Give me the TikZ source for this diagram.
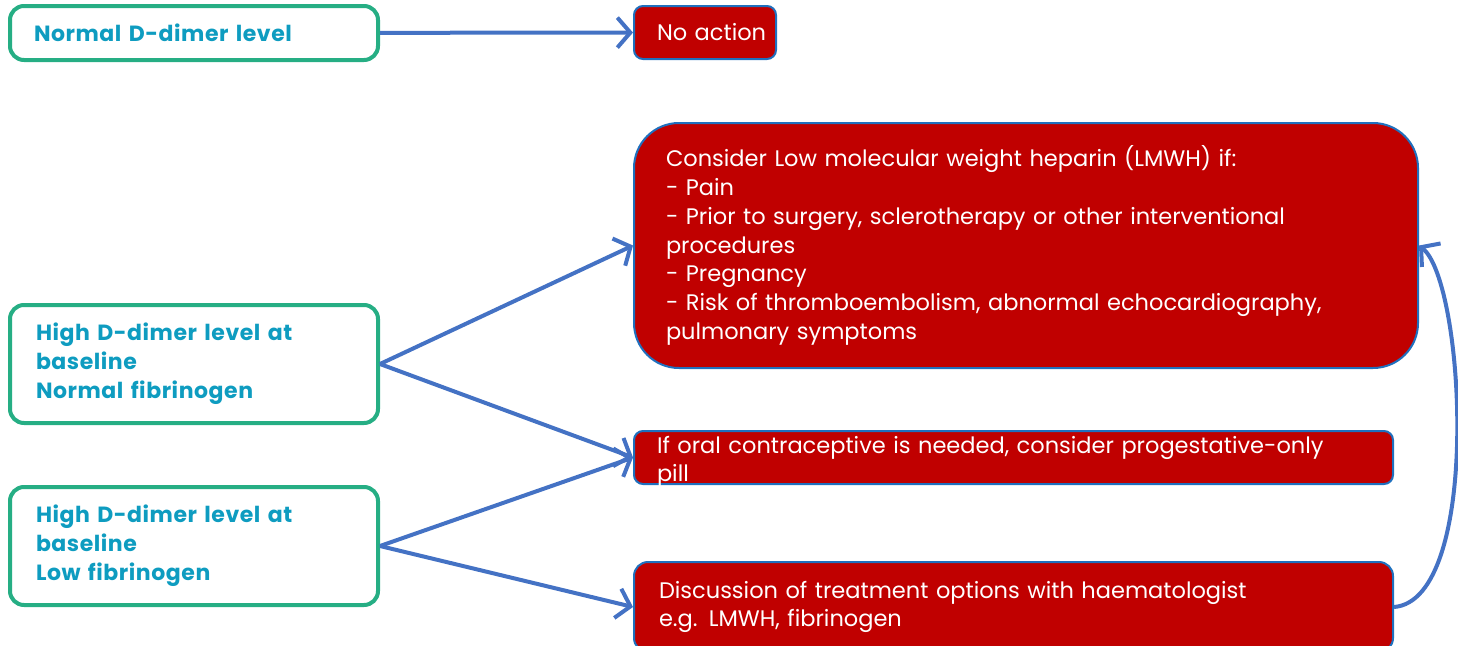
\documentclass[tikz,border=0pt]{standalone}
\usepackage{fontspec}
\setmainfont{Poppins}[WordSpace=1.6]
\newfontfamily\condfont{Poppins}[LetterSpace=2.5, WordSpace=1.4]
\usepackage{xcolor}
\usepackage{tikz}
\usetikzlibrary{arrows.meta}

\definecolor{boxred}{RGB}{192,0,0}
\definecolor{edgeblue}{RGB}{31,112,190}
\definecolor{arrowblue}{RGB}{68,114,196}
\definecolor{leafgreen}{RGB}{38,174,132}
\definecolor{tealtext}{RGB}{14,156,192}

\begin{document}
\begin{tikzpicture}[x=1pt, y=-1pt,
    cond/.style={draw=leafgreen, line width=4pt, fill=white, rounded corners=14pt,
        minimum width=368pt, inner sep=0pt, align=left, text width=316pt,
        text=tealtext, font=\condfont\fontsize{22}{29}\selectfont\bfseries},
    action/.style={draw=edgeblue, line width=2pt, fill=boxred, rounded corners=9pt,
        inner sep=0pt, align=left, text=white, font=\fontsize{22.5}{28.7}\selectfont},
    arrow/.style={-{Straight Barb[length=13pt, width=30pt]}, line width=4pt, draw=arrowblue}
]
\path[use as bounding box, clip] (0,0) rectangle (1458,645);

% Conditions
\node[cond, minimum height=54pt, text width=320pt] (normal) at (194,33) {Normal D-dimer level};
\node[cond, minimum height=118pt] (highn) at (194,364) {High D-dimer level at\\baseline\\Normal fibrinogen};
\node[cond, minimum height=118pt] (highl) at (194,546) {High D-dimer level at\\baseline\\Low fibrinogen};

% Actions
\node[action, minimum width=142pt, minimum height=53pt, text width=96pt] (noact) at (705,32.5) {\mbox{No action}};
\node[action, rounded corners=45pt, minimum width=784pt, minimum height=245pt, text width=720pt] (lmwh) at (1026,245.5)
    {Consider Low molecular weight heparin (LMWH) if:\\
     - Pain\\
     - Prior to surgery, sclerotherapy or other interventional\\
     procedures\\
     - Pregnancy\\
     - Risk of thromboembolism, abnormal echocardiography,\\
     pulmonary symptoms};
\node[action, minimum width=759pt, minimum height=53pt, text width=713pt,
    text height=22pt, text depth=31pt] (oral) at (1013.5,457.5)
    {If oral contraceptive is needed, consider progestative-only\\pill};
\node[action, rounded corners=14pt, minimum width=759pt, minimum height=90pt, text width=709pt] (disc) at (1013.5,607)
    {Discussion of treatment options with haematologist\\e.g. LMWH, fibrinogen};

% Transitions
\draw[arrow] (normal) -- (noact);
\draw[arrow] (highn.east) -- (lmwh.west);
\draw[arrow] (highn.east) -- (oral.west);
\draw[arrow] (highl.east) -- (oral.west);
\draw[arrow] (highl.east) -- (disc.west);
\draw[arrow] (disc.east) .. controls (1482,600) and (1465,282) .. (lmwh.east);

\end{tikzpicture}
\end{document}
